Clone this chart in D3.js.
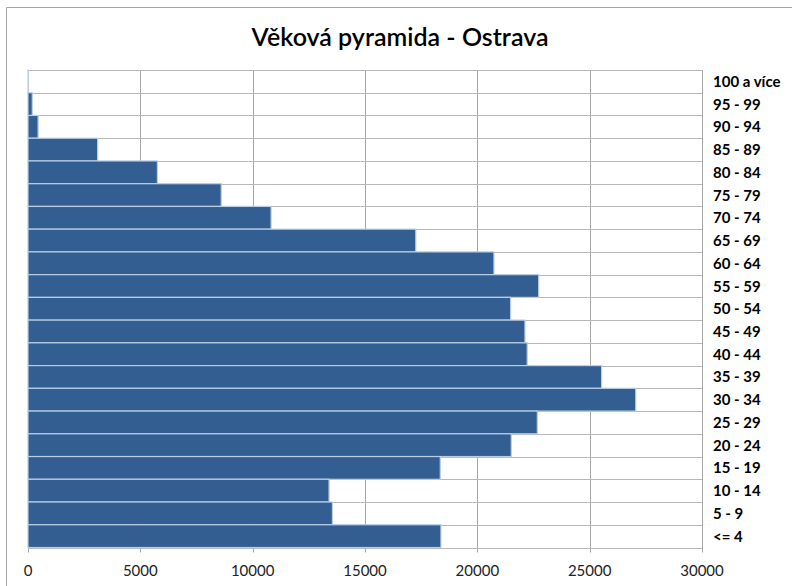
<!DOCTYPE html>
<html><head><meta charset="utf-8">
<script src="https://cdn.jsdelivr.net/npm/d3@7"></script>
<style>
html,body{margin:0;padding:0;background:#fff;}
svg{display:block;}
</style></head>
<body>
<svg id="c" width="792" height="586"></svg>
<script>
const categories = ["100 a více","95 - 99","90 - 94","85 - 89","80 - 84","75 - 79","70 - 74","65 - 69","60 - 64","55 - 59","50 - 54","45 - 49","40 - 44","35 - 39","30 - 34","25 - 29","20 - 24","15 - 19","10 - 14","5 - 9","<= 4"];
const values = [20,190,450,3100,5760,8600,10820,17260,20740,22730,21480,22120,22220,25530,27050,22670,21510,18350,13400,13550,18380];
const xTicks = [0,5000,10000,15000,20000,25000,30000];
const title = "Věková pyramida - Ostrava";

const svg = d3.select("#c");
const pLeft = 28, pRight = 702, pTop = 70, pBottom = 547.5;

// chart frame
svg.append("path").attr("d","M6.5,600 V7.5 H800").attr("fill","none").attr("stroke","#a6a6a6").attr("stroke-width",1);

svg.append("text").attr("x",400).attr("y",46).attr("text-anchor","middle")
  .attr("font-family","Lato, 'Open Sans', sans-serif").attr("font-size",25).attr("font-weight",600)
  .attr("fill","#000").text(title);

const x = d3.scaleLinear().domain([0,30000]).range([pLeft,pRight]);
const y = d3.scaleBand().domain(categories).range([pTop,pBottom]).padding(0);

// vertical gridlines
svg.append("g").selectAll("line").data(xTicks).join("line")
  .attr("x1",d=>Math.round(x(d))+0.5).attr("x2",d=>Math.round(x(d))+0.5)
  .attr("y1",pTop).attr("y2",pBottom+5).attr("stroke","#a6a6a6").attr("stroke-width",1);

// horizontal gridlines
const bounds = categories.map(c=>y(c)).concat([pBottom]);
svg.append("g").selectAll("line").data(bounds).join("line")
  .attr("x1",pLeft).attr("x2",pRight).attr("y1",d=>Math.round(d)+0.5).attr("y2",d=>Math.round(d)+0.5)
  .attr("stroke","#b8b8b8").attr("stroke-width",1);

// bars
svg.append("g").selectAll("rect").data(values).join("rect")
  .attr("x",x(0)).attr("y",(d,i)=>y(categories[i]))
  .attr("width",d=>x(d)-x(0)).attr("height",y.bandwidth())
  .attr("fill","#335e91").attr("stroke","#b9cde5").attr("stroke-width",1.2);

// category labels
svg.append("g").selectAll("text").data(categories).join("text")
  .attr("x",713).attr("y",d=>y(d)+y.bandwidth()/2+5.5)
  .attr("font-family","Lato, 'Open Sans', sans-serif").attr("font-size",15).attr("font-weight",700)
  .attr("fill","#000").text(d=>d);

// x tick labels
svg.append("g").selectAll("text").data(xTicks).join("text")
  .attr("x",d=>x(d)).attr("y",576).attr("text-anchor","middle")
  .attr("font-family","Lato, 'Open Sans', sans-serif").attr("font-size",15)
  .attr("fill","#222").text(d=>d);
</script>
</body></html>
